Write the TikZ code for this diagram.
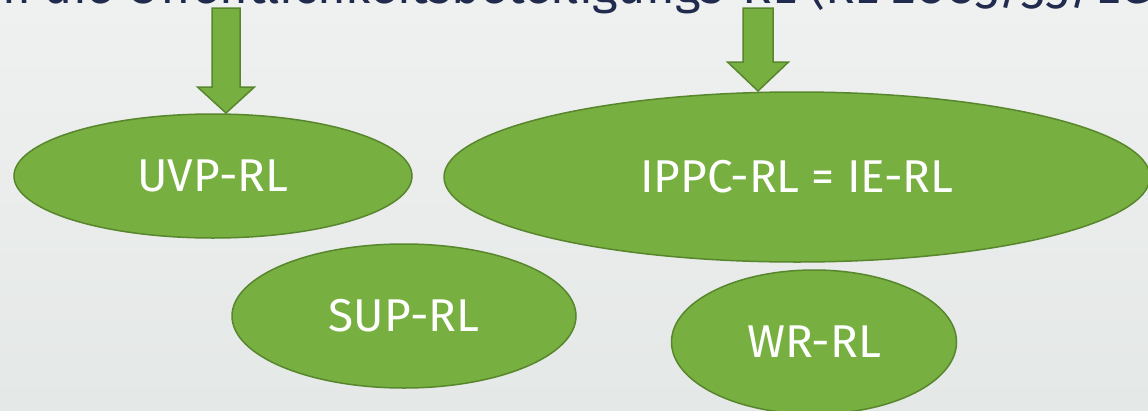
\documentclass[tikz,border=0pt]{standalone}
\usepackage{fontspec}
\setmainfont{Fira Sans}
\newfontfamily\titlefont[Numbers=OldStyle]{Fira Sans}
\usepackage{tikz}
\usetikzlibrary{positioning,shapes.geometric}

\definecolor{leafgreen}{RGB}{119,176,65}
\definecolor{leafdark}{RGB}{88,134,44}
\definecolor{inknavy}{RGB}{33,43,78}
\definecolor{bgtop}{RGB}{239,241,240}
\definecolor{bgbottom}{RGB}{228,232,231}

\begin{document}
\begin{tikzpicture}[
	x=1pt, y=-1pt,
	rl/.style={ellipse, draw=leafdark, line width=1.5pt, fill=leafgreen,
		inner sep=0pt, text=white, font=\fontsize{46}{50}\selectfont},
	blockarrow/.style={draw=leafdark, line width=1.5pt, fill=leafgreen,
		line join=miter}
	]
	% background
	\shade[top color=bgtop, bottom color=bgbottom] (0,0) rectangle (1148,410);
	\useasboundingbox (0,0) rectangle (1148,410);

	% heading, mostly above the page
	\node (titel) [anchor=base west, inner sep=0pt, text=inknavy,
		font=\titlefont\fontsize{49}{53}\selectfont] at (-12,3)
		{in die Öffentlichkeitsbeteiligungs-RL (RL 2003/35/EG)};

	% directives
	\node (uvp) [rl, minimum width=398pt, minimum height=124pt] at (213,176) {UVP-RL};
	\node (ippc) [rl, minimum width=706pt, minimum height=170pt] at (797,177) {IPPC-RL = IE-RL};
	\node (sup) [rl, minimum width=344pt, minimum height=144pt] at (404,316) {SUP-RL};
	\node (wr) [rl, minimum width=285pt, minimum height=144pt] at (814,342) {WR-RL};

	% arrows from the heading
	\coordinate (uvptip) at (226,113);
	\coordinate (ippctip) at (758,91);
	\draw[blockarrow] (uvptip) -- ++(28.5,-26) -- ++(-14.5,0) -- ++(0,-79)
		-- ++(-28,0) -- ++(0,79) -- ++(-14.5,0) -- cycle;
	\draw[blockarrow] (ippctip) -- ++(30.5,-29) -- ++(-15.5,0) -- ++(0,-54)
		-- ++(-30,0) -- ++(0,54) -- ++(-15.5,0) -- cycle;
\end{tikzpicture}
\end{document}
